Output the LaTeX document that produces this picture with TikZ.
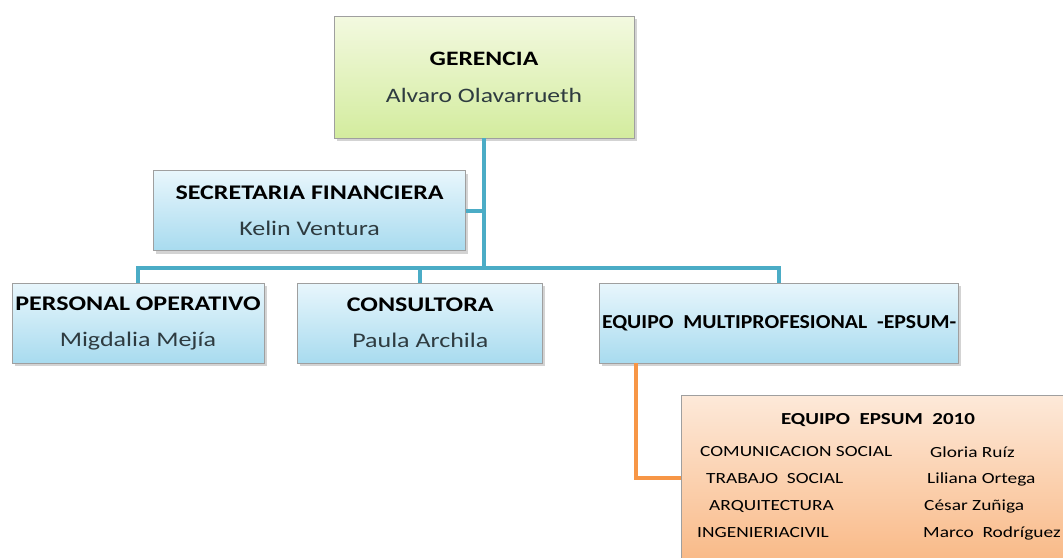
\documentclass[tikz,border=0pt]{standalone}
\usepackage{fontspec}
\setmainfont{Carlito}[FakeStretch=1.25]
\newfontfamily\condfont{Carlito}[FakeStretch=1.1]
\usetikzlibrary{positioning}
\usetikzlibrary{shadows}
\definecolor{tealline}{HTML}{4BACC6}
\definecolor{orangeline}{HTML}{F79646}
\definecolor{nametext}{HTML}{2E3B40}
\definecolor{greentop}{HTML}{F3F9E0}
\definecolor{greenbot}{HTML}{D3EC9E}
\definecolor{bluetop}{HTML}{E8F6FC}
\definecolor{bluebot}{HTML}{A8DBEF}
\definecolor{orangetop}{HTML}{FDE9D9}
\definecolor{orangebot}{HTML}{F9BA88}

\begin{document}
\begin{tikzpicture}[x=1pt,y=-1pt,
	box/.style={draw=gray!75, line width=0.8pt, rectangle, align=center, inner sep=0pt,
		drop shadow={shadow xshift=2.5pt, shadow yshift=-3pt, opacity=0.35}},
	gbox/.style={box, top color=greentop, bottom color=greenbot,
		font=\fontsize{20.5}{37}\selectfont},
	bbox/.style={box, top color=bluetop, bottom color=bluebot,
		font=\fontsize{20.8}{36}\selectfont, minimum height=80pt},
	obox/.style={box, top color=orangetop, bottom color=orangebot},
	link/.style={draw=tealline, line width=4pt},
	olink/.style={draw=orangeline, line width=4pt},
	row/.style={anchor=west, inner sep=0pt, font=\fontsize{15.5}{17}\selectfont}]
	\useasboundingbox (0,0) rectangle (1063,557);

	\node (ger) [gbox, minimum width=300pt, minimum height=122pt] at (484,77)
		{\textbf{GERENCIA}\\\textcolor{nametext}{Alvaro Olavarrueth}};
	\node (sec) [bbox, minimum width=312pt, below left=32pt and 18pt of ger.south]
		{\textbf{SECRETARIA FINANCIERA}\\\textcolor{nametext}{Kelin Ventura}};
	\node (per) [bbox, minimum width=252pt] at (138,323)
		{\textbf{PERSONAL OPERATIVO}\\\textcolor{nametext}{Migdalia Mejía}};
	\node (con) [bbox, minimum width=245pt, right=33pt of per]
		{\textbf{CONSULTORA}\\\textcolor{nametext}{Paula Archila}};
	\node (mul) [bbox, minimum width=359pt, right=56pt of con, font=\condfont\fontsize{19.8}{22}\selectfont]
		{\textbf{EQUIPO\ \ MULTIPROFESIONAL\ \ -EPSUM-}};
	\node (eps) [obox, minimum width=400pt, minimum height=164pt, below right=32pt and 82pt of mul.south west] {};

	% texto del equipo EPSUM
	\node (tit) [inner sep=0pt, font=\fontsize{16.8}{20}\selectfont] at (878,420) {\textbf{EQUIPO\ \ EPSUM\ \ 2010}};
	\node (r1) [row] at (700,452) {COMUNICACION SOCIAL};
	\node (r2) [row] at (706,479) {TRABAJO\ \ SOCIAL};
	\node (r3) [row] at (709,506) {ARQUITECTURA};
	\node (r4) [row] at (697,533) {INGENIERIACIVIL};
	\node (n1) [row] at (930,452) {Gloria Ruíz};
	\node (n2) [row] at (927,479) {Liliana Ortega};
	\node (n3) [row] at (924,506) {César Zuñiga};
	\node (n4) [row] at (923,533) {Marco\ \ Rodríguez};

	\coordinate (bus) at (0,268);
	\draw[link] (ger.south) -- (ger.south |- bus);
	\draw[link] (sec.east) -- (sec.east -| ger.south);
	\draw[link] (per.north) |- (bus -| mul.north) -- (mul.north);
	\draw[link] (con.north) -- (con.north |- bus);
	\draw[olink] ([xshift=37pt]mul.south west) |- (eps.west);
\end{tikzpicture}
\end{document}
